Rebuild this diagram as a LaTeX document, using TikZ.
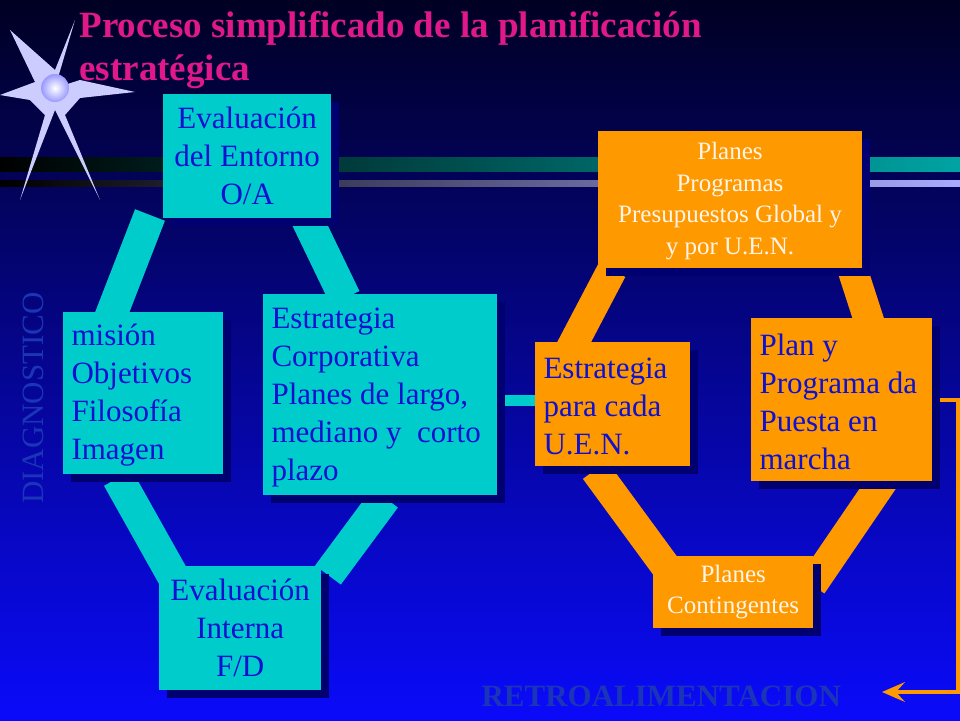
\documentclass[tikz,border=0pt]{standalone}
\usepackage{fontspec}
\setmainfont{Liberation Serif}
\usetikzlibrary{arrows.meta}
\definecolor{cy}{HTML}{00CCCC}
\definecolor{org}{HTML}{FF9900}
\definecolor{txb}{HTML}{1010D0}
\definecolor{shd}{HTML}{000070}
\definecolor{mag}{HTML}{E0188A}
\definecolor{dim}{HTML}{1A35B8}
\tikzset{
  x=1pt,y=-1pt,
  cbox/.style={fill=cy,inner sep=0pt,anchor=north west},
  obox/.style={fill=org,inner sep=0pt,anchor=north west},
  btxt/.style={text=txb,font=\fontsize{31}{38}\selectfont},
  wtxt/.style={text=white!92!orange,font=\fontsize{25}{31.5}\selectfont,align=center},
  cband/.style={draw=cy,line width=32pt},
  oband/.style={draw=org,line width=30pt},
}
\newcommand{\shbox}[6]{% name, x, y, w, h, style
  \fill[shd] (#2+8,#3+8) rectangle ++(#4,#5);
  \node[#6,minimum width=#4pt,minimum height=#5pt] (#1) at (#2,#3) {};
}
\begin{document}
\begin{tikzpicture}
\shade[top color={rgb,255:red,0;green,0;blue,35},bottom color={rgb,255:red,10;green,10;blue,250}] (0,0) rectangle (960,720);
\useasboundingbox (0,0) rectangle (960,720);
% bars
\shade[left color=black,right color=cy!80!black] (0,157) rectangle (960,171);
\shade[left color=black,right color={rgb,255:red,170;green,170;blue,255}] (0,180) rectangle (960,186);
% star
\fill[white!80!blue] (55,88) -- (80,80)--(135,92)--(80,98)--(65,115)--(100,200)--(55,110)--(20,200)--(45,115)--(30,100)--(0,95)--(35,82)--(10,30)--(55,70)--(75,20)--cycle;
\shade[inner color=white,outer color=white!60!blue] (55,88) circle (14);
% title
\node[anchor=west,text=mag,font=\bfseries\fontsize{37}{38}\selectfont] (t1) at (76,28) {Proceso simplificado de la planificación};
\node[anchor=west,text=mag,font=\bfseries\fontsize{37}{38}\selectfont] (t2) at (76,72) {estratégica};
% cyan bands
\draw[cband] (150,215) -- (110,318);
\draw[cband] (305,215) -- (345,298);
\draw[cband] (118,478) -- (178,585);
\draw[cband] (385,498) -- (328,575);
\fill[cy] (497,395) rectangle (537,406);
% orange bands
\draw[oband] (570,350) -- (612,270);
\draw[oband] (872,330) -- (850,262);
\draw[oband] (595,470) -- (672,575);
\draw[oband] (885,478) -- (812,585);
% feedback
\draw[org,line width=4pt] (932,400) -- (958,400) -- (958,692) -- (888,692);
\fill[org] (882,692) -- (905,682) -- (896,692) -- (905,702) -- cycle;
% boxes
\shbox{ee}{163}{94}{168}{124}{cbox}
\node[btxt,align=center] at (ee.center) {Evaluación\\del Entorno\\O/A};
\shbox{mi}{63}{312}{160}{162}{cbox}
\node[btxt,align=left,anchor=west] at (68,395) {misión\\Objetivos\\Filosofía\\Imagen};
\shbox{ec}{263}{294}{234}{201}{cbox}
\node[btxt,align=left,anchor=west] at (268,398) {Estrategia\\Corporativa\\Planes de largo,\\mediano y\ \ corto\\plazo};
\shbox{ei}{159}{566}{162}{124}{cbox}
\node[btxt,align=center] at (ei.center) {Evaluación\\Interna\\F/D};
\shbox{pt}{598}{131}{264}{137}{obox}
\node[wtxt] at (730,201) {Planes\\Programas\\Presupuestos Global y\\y por U.E.N.};
\shbox{eu}{535}{342}{155}{124}{obox}
\node[btxt,align=left,anchor=west] at (540,406) {Estrategia\\para cada\\U.E.N.};
\shbox{pp}{751}{318}{181}{163}{obox}
\node[btxt,align=left,anchor=west] at (756,402) {Plan y\\Programa da\\Puesta en\\marcha};
\shbox{pc}{653}{556}{160}{72}{obox}
\node[wtxt] at (pc.center) {Planes\\Contingentes};
% dim labels
\node[rotate=90,text=dim,font=\fontsize{31}{32}\selectfont] (dg) at (33,398) {DIAGNOSTICO};
\node[text=dim,font=\bfseries\fontsize{31}{32}\selectfont,anchor=west] (rt) at (478,696) {RETROALIMENTACION};
\end{tikzpicture}
\end{document}
